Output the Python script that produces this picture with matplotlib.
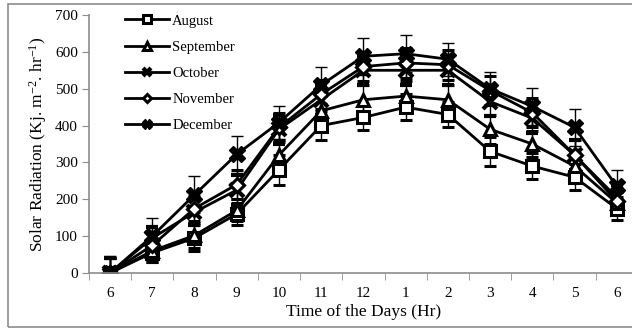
import numpy as np
import matplotlib
matplotlib.use("Agg")
import matplotlib.pyplot as plt
from matplotlib.ticker import FixedLocator

plt.rcParams["font.family"] = ["Liberation Serif", "DejaVu Serif"]
plt.rcParams["mathtext.fontset"] = "custom"
plt.rcParams["mathtext.rm"] = "Liberation Serif"
plt.rcParams["mathtext.it"] = "Liberation Serif:italic"

# data
hours = ["6", "7", "8", "9", "10", "11", "12", "1", "2", "3", "4", "5", "6"]
august = [0, 55, 95, 160, 280, 400, 422, 450, 430, 330, 290, 260, 175]
september = [0, 60, 102, 170, 320, 440, 470, 480, 470, 390, 350, 290, 190]
october = [0, 95, 165, 225, 390, 470, 550, 550, 550, 465, 420, 320, 205]
november = [0, 75, 175, 240, 395, 485, 560, 570, 565, 495, 435, 320, 195]
december = [0, 100, 212, 322, 408, 510, 588, 595, 580, 500, 452, 395, 235]
err_aug = [40, 25, 35, 30, 40, 40, 35, 35, 35, 40, 35, 35, 30]
err_sep = [40, 30, 35, 30, 40, 40, 40, 40, 40, 40, 35, 35, 30]
err_oct = [40, 30, 35, 40, 40, 40, 40, 40, 40, 40, 40, 40, 35]
err_nov = [40, 30, 35, 40, 40, 40, 40, 40, 40, 40, 40, 40, 35]
err_dec = [45, 50, 50, 50, 45, 50, 50, 50, 45, 45, 50, 50, 45]

series = [
    ("August", august, err_aug, dict(marker="s", markersize=9, markerfacecolor="white", markeredgewidth=2.2)),
    ("September", september, err_sep, dict(marker="^", markersize=9, markerfacecolor="white", markeredgewidth=2.2)),
    ("October", october, err_oct, dict(marker="x", markersize=10, markeredgewidth=3)),
    ("November", november, err_nov, dict(marker="D", markersize=7, markerfacecolor="white", markeredgewidth=2.2)),
    ("December", december, err_dec, dict(marker="X", markersize=11, markerfacecolor="black", markeredgewidth=1)),
]

fig = plt.figure(figsize=(6.32, 3.31), dpi=100)
fig.patch.set_linewidth(0)
border = plt.Rectangle((8 / 632, 4 / 331), 640 / 632, 323 / 331, transform=fig.transFigure,
                       fill=False, edgecolor="#8c8c8c", linewidth=1.2)
fig.patches.append(border)

ax = fig.add_axes([88.9 / 632, 58 / 331, 549 / 632, 258 / 331])
x = np.arange(len(hours))

handles = []
for name, vals, err, style in series:
    cont = ax.errorbar(x, vals, yerr=err, color="black", ecolor="black", elinewidth=1,
                       capsize=4, capthick=1, linewidth=2, label=name, markeredgecolor="black",
                       **style)
    handles.append(cont[0])

ax.set_xlim(-0.5, len(hours) - 0.5)
ax.set_ylim(0, 700)
ax.set_yticks(np.arange(0, 701, 100))
ax.set_xticks(x)
ax.set_xticklabels(hours)
ax.xaxis.set_minor_locator(FixedLocator(np.arange(-0.5, len(hours), 1.0)))
ax.tick_params(axis="x", which="major", length=0, labelsize=11, pad=10)
ax.tick_params(axis="x", which="minor", length=5, color="#8c8c8c", direction="out")
ax.tick_params(axis="y", length=5, color="#8c8c8c", labelsize=11, pad=3)

for s in ["top", "right"]:
    ax.spines[s].set_visible(False)
for s in ["left", "bottom"]:
    ax.spines[s].set_color("#8c8c8c")
    ax.spines[s].set_linewidth(1.2)

ax.set_xlabel("Time of the Days (Hr)", fontsize=12.5, labelpad=3)
ax.set_ylabel(r"Solar Radiation (Kj. m$^{-2}$. hr$^{-1}$)", fontsize=12.5, labelpad=4)

leg = ax.legend(handles, [s[0] for s in series], loc="upper left", bbox_to_anchor=(0.055, 1.025),
                frameon=False, fontsize=10.5, markerscale=0.6,
                handlelength=3.0, labelspacing=0.88, handletextpad=0.25, borderaxespad=0)

fig.savefig("out.png", dpi=100)
